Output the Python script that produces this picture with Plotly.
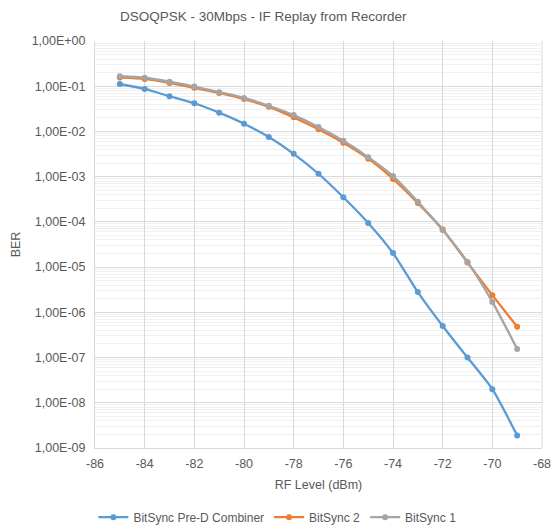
import numpy as np
import plotly.graph_objects as go

rf_level = [-85, -84, -83, -82, -81, -80, -79, -78, -77, -76, -75, -74, -73, -72, -71, -70, -69]
ber_pred = [0.112, 0.087, 0.060, 0.042, 0.026, 0.0148, 0.0075, 0.0032, 0.00116, 0.00035, 9.5e-5,
            2.05e-5, 2.8e-6, 5.0e-7, 1.0e-7, 2.0e-8, 1.9e-9]
ber_bs2 = [0.155, 0.145, 0.118, 0.092, 0.071, 0.052, 0.035, 0.0205, 0.0112, 0.0056, 0.0025,
           0.00089, 0.00026, 6.8e-5, 1.26e-5, 2.4e-6, 4.8e-7]
ber_bs1 = [0.166, 0.154, 0.126, 0.098, 0.074, 0.055, 0.037, 0.023, 0.0126, 0.0062, 0.0027,
           0.00103, 0.00028, 6.6e-5, 1.3e-5, 1.7e-6, 1.55e-7]

series_names = ["BitSync Pre-D Combiner", "BitSync 2", "BitSync 1"]
series_colors = ["#5b9bd5", "#ed7d31", "#a5a5a5"]

y_exponents = list(range(0, -10, -1))
y_tickvals = [10.0 ** e for e in y_exponents]
y_ticktext = ["1,00E+00" if e == 0 else "1,00E-%02d" % (-e) for e in y_exponents]
x_tickvals = list(range(-86, -67, 2))
x_ticktext = [str(v) for v in x_tickvals]

minor_vals = [m * 10.0 ** e for e in range(-9, 0) for m in range(2, 10)]

fig = go.Figure()
for name, color, vals in [(series_names[0], series_colors[0], ber_pred),
                          (series_names[1], series_colors[1], ber_bs2),
                          (series_names[2], series_colors[2], ber_bs1)]:
    fig.add_trace(go.Scatter(
        x=rf_level, y=vals, name=name, mode="lines+markers",
        line=dict(color=color, width=2.3, shape="spline", smoothing=0.6),
        marker=dict(color=color, size=6, symbol="circle"),
    ))

font_family = "Liberation Sans, Arial, sans-serif"
fig.update_layout(
    width=552, height=528,
    margin=dict(l=95, r=10, t=41, b=80, autoexpand=False),
    paper_bgcolor="white", plot_bgcolor="white",
    font=dict(family=font_family, size=12, color="#595959"),
    title=dict(text="DSOQPSK - 30Mbps - IF Replay from Recorder",
               x=0.477, xref="container", xanchor="center",
               y=0.97, yref="container", yanchor="middle",
               font=dict(size=13.5, color="#595959")),
    showlegend=True,
    legend=dict(orientation="h", x=0.408, xref="paper", xanchor="center",
                y=-0.17, yanchor="middle", font=dict(size=12, color="#595959"),
                tracegroupgap=0),
    xaxis=dict(range=[-86, -68], tickvals=x_tickvals, ticktext=x_ticktext, ticks="",
               ticklabelstandoff=4,
               showgrid=True, gridcolor="#d9d9d9", gridwidth=1,
               showline=True, linecolor="#d9d9d9", zeroline=False, mirror=False,
               title=dict(text="RF Level (dBm)", standoff=10, font=dict(size=12.5)),
               tickfont=dict(size=12.5)),
    yaxis=dict(type="log", range=[-9, 0], tickvals=y_tickvals, ticktext=y_ticktext,
               ticks="", showgrid=True, gridcolor="#d9d9d9", gridwidth=1,
               showline=True, linecolor="#d9d9d9", zeroline=False,
               ticklabelstandoff=6,
               title=dict(text="BER", standoff=8, font=dict(size=12.5)),
               tickfont=dict(size=12.5),
               minor=dict(tickvals=minor_vals, showgrid=True, gridcolor="#f0f0f0", ticks="")),
    shapes=[dict(type="line", xref="paper", yref="paper", x0=1, x1=1, y0=0, y1=1,
                 line=dict(color="#d9d9d9", width=1), layer="below")],
)

fig.write_html("out.html", config={"displayModeBar": False},
               post_script="document.body.style.margin='0';document.body.style.overflow='hidden';")
